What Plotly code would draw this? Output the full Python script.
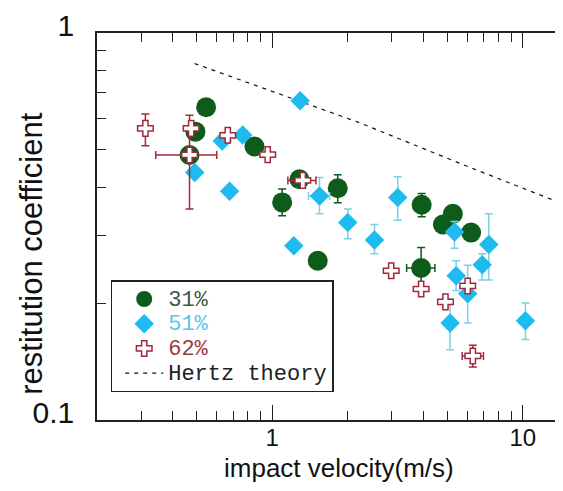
import math
import plotly.graph_objects as go

# ---- data ----
x31 = [0.545, 0.494, 0.468, 0.850, 1.285, 1.096, 1.827, 1.52, 3.95, 4.80, 5.26, 6.22, 3.93]
y31 = [0.643, 0.556, 0.484, 0.509, 0.419, 0.365, 0.397, 0.258, 0.360, 0.320, 0.341, 0.305, 0.247]
ey31_up = [0, 0, 0, 0, 0, 0.030, 0.033, 0, 0.025, 0, 0, 0, 0.032]
ey31_dn = [0, 0, 0, 0, 0, 0.028, 0.033, 0, 0.025, 0, 0, 0, 0.032]
ex31_up = [0, 0, 0, 0, 0, 0, 0, 0, 0, 0, 0, 0, 0.53]
ex31_dn = [0, 0, 0, 0, 0, 0, 0, 0, 0, 0, 0, 0, 0.49]

x51 = [1.293, 0.632, 0.763, 0.491, 0.676, 1.545, 2.003, 2.56, 1.22, 3.17, 5.34, 7.32, 6.89, 5.42, 6.03, 5.13, 10.25]
y51 = [0.668, 0.526, 0.545, 0.436, 0.390, 0.379, 0.324, 0.292, 0.282, 0.376, 0.306, 0.284, 0.252, 0.236, 0.212, 0.178, 0.1805]
ey51_up = [0, 0, 0, 0, 0, 0.044, 0.027, 0.028, 0, 0.049, 0.020, 0.057, 0.017, 0.022, 0.039, 0.027, 0.020]
ey51_dn = [0, 0, 0, 0, 0, 0.038, 0.030, 0.023, 0, 0.048, 0.028, 0.054, 0.022, 0.020, 0.034, 0.026, 0.019]
ex51 = [0, 0, 0, 0, 0, 0.15, 0, 0, 0, 0, 0, 0.3, 0, 0, 0, 0, 0]

x62 = [0.312, 0.475, 0.665, 0.960, 0.468, 1.325, 2.985, 3.93, 6.03, 4.915, 6.32]
y62 = [0.567, 0.567, 0.544, 0.485, 0.484, 0.416, 0.243, 0.218, 0.222, 0.202, 0.1464]
ey62_up = [0.051, 0, 0, 0, 0.129, 0, 0, 0, 0, 0, 0.0096]
ey62_dn = [0.056, 0, 0, 0, 0.133, 0, 0, 0, 0, 0, 0.0094]
ex62_up = [0, 0, 0, 0, 0.133, 0.17, 0, 0, 0, 0, 0.65]
ex62_dn = [0, 0, 0, 0, 0.125, 0.17, 0, 0, 0, 0, 0.59]

hertz_x = [0.49, 2.23, 6.13, 14.5]
hertz_y = [0.834, 0.5865, 0.450, 0.3615]

x_tickvals = [1, 10]
x_ticktext = ["1", "10"]
y_tickvals = [0.1, 1]
y_ticktext = ["0.1", "1"]
x_minor = [0.3, 0.4, 0.5, 0.6, 0.7, 0.8, 0.9, 2, 3, 4, 5, 6, 7, 8, 9]
y_minor = [0.2, 0.3, 0.4, 0.5, 0.6, 0.7, 0.8, 0.9]

GREEN = "#0d5c1c"
CYAN = "#1ebcee"
CYAN_ERR = "#7ccfe9"
RED = "#a3283a"

LEG_SPAN = '<span style="font-size:22px;color:{c}">{t}</span>'

fig = go.Figure()

fig.add_trace(go.Scatter(
    x=hertz_x, y=hertz_y, mode="lines",
    name=LEG_SPAN.format(c="#222222", t="Hertz theory"),
    line=dict(color="#111111", width=1.2, dash="4px,5px"),
    legendrank=1000,
))

fig.add_trace(go.Scatter(
    x=x31, y=y31, mode="markers",
    name=LEG_SPAN.format(c="#3d5a40", t="31%"),
    marker=dict(symbol="circle", size=20, color=GREEN, line=dict(width=0)),
    error_y=dict(type="data", symmetric=False, array=ey31_up, arrayminus=ey31_dn,
                 color=GREEN, thickness=1.5, width=4),
    error_x=dict(type="data", symmetric=False, array=ex31_up, arrayminus=ex31_dn,
                 color=GREEN, thickness=1.5, width=4),
    legendrank=1,
))

fig.add_trace(go.Scatter(
    x=x51, y=y51, mode="markers",
    name=LEG_SPAN.format(c="#5cc6e6", t="51%"),
    marker=dict(symbol="diamond", size=15, color=CYAN, line=dict(width=0)),
    error_y=dict(type="data", symmetric=False, array=ey51_up, arrayminus=ey51_dn,
                 color=CYAN_ERR, thickness=1.5, width=4),
    error_x=dict(type="data", array=ex51, color=CYAN_ERR, thickness=1.5, width=4),
    legendrank=2,
))

fig.add_trace(go.Scatter(
    x=x62, y=y62, mode="markers",
    name=LEG_SPAN.format(c="#9c3a44", t="62%"),
    marker=dict(symbol="cross", size=13, color="white", line=dict(width=1.5, color=RED)),
    error_y=dict(type="data", symmetric=False, array=ey62_up, arrayminus=ey62_dn,
                 color=RED, thickness=1.5, width=4),
    error_x=dict(type="data", symmetric=False, array=ex62_up, arrayminus=ex62_dn,
                 color=RED, thickness=1.5, width=4),
    legendrank=3,
))

# page has an 8px body margin: figure is placed at (8, 8)
OFF = 8
W, H = 563 - OFF, 491 - OFF
PL, PT, PB = 97, 27, 420          # plot frame in page pixels
L, T = PL - OFF, PT - OFF
B = H - (PB - OFF)
R = 0
pw = W - L - R
ph = H - T - B
dec = 250.6
xr0 = math.log10(0.2)
xr1 = xr0 + pw / dec


def px(p):
    return (p - PL) / pw


def py(p):
    return (PB - p) / ph


fig.update_layout(
    width=W, height=H,
    margin=dict(l=L, r=R, t=T, b=B, pad=0),
    paper_bgcolor="white", plot_bgcolor="white",
    font=dict(family="Liberation Sans, Arial, sans-serif", color="#111111"),
    xaxis=dict(
        type="log", range=[xr0, xr1], showgrid=False, zeroline=False,
        showline=True, linecolor="#222222", linewidth=1.5, mirror="ticks",
        ticks="inside", ticklen=15, tickwidth=1.2, tickcolor="#222222",
        tickmode="array", tickvals=x_tickvals, ticktext=x_ticktext,
        tickfont=dict(size=24, family="Liberation Sans, Arial"),
        ticklabelstandoff=-5,
        minor=dict(tickmode="array", tickvals=x_minor, ticks="inside", ticklen=9,
                   tickwidth=1.2, tickcolor="#222222", showgrid=False),
    ),
    yaxis=dict(
        type="log", range=[-1, 0], showgrid=False, zeroline=False,
        showline=True, linecolor="#222222", linewidth=1.5, mirror=False,
        ticks="inside", ticklen=9, tickwidth=1.2, tickcolor="#222222",
        tickmode="array", tickvals=y_tickvals, ticktext=y_ticktext,
        tickfont=dict(size=30, family="Liberation Sans, Arial"),
        ticklabelstandoff=15, ticklabelshift=-8, ticklabeloverflow="allow",
        minor=dict(tickmode="array", tickvals=y_minor, ticks="inside", ticklen=9,
                   tickwidth=1.2, tickcolor="#222222", showgrid=False),
    ),
    yaxis2=dict(
        type="log", range=[-1, 0], overlaying="y", side="right", anchor="x",
        showgrid=False, zeroline=False, showline=False, showticklabels=False,
        ticks="inside", ticklen=7, tickwidth=1.2, tickcolor="#222222",
        tickmode="array", tickvals=y_tickvals,
        minor=dict(tickmode="array", tickvals=y_minor, ticks="inside", ticklen=7,
                   tickwidth=1.2, tickcolor="#222222", showgrid=False),
    ),
    showlegend=True,
    legend=dict(
        x=px(110.7), y=py(278), xanchor="left", yanchor="top",
        bgcolor="white", bordercolor="#222222", borderwidth=1.5,
        font=dict(family="Liberation Mono, DejaVu Sans Mono, monospace", size=16.7, color="#222222"),
        itemwidth=38, tracegroupgap=0, traceorder="normal", indentation=8,
    ),
    annotations=[
        dict(text="impact velocity(m/s)", xref="paper", yref="paper",
             x=px(338.5), y=py(469), xanchor="center", yanchor="middle",
             showarrow=False, font=dict(size=26, family="Liberation Sans, Arial", color="#111111")),
        dict(text="restitution coefficient", xref="paper", yref="paper", textangle=-90,
             x=px(31.5), y=py(251.7), xanchor="center", yanchor="middle",
             showarrow=False, font=dict(size=31, family="Liberation Sans, Arial", color="#111111")),
    ],
)

fig.write_html("out.html")
